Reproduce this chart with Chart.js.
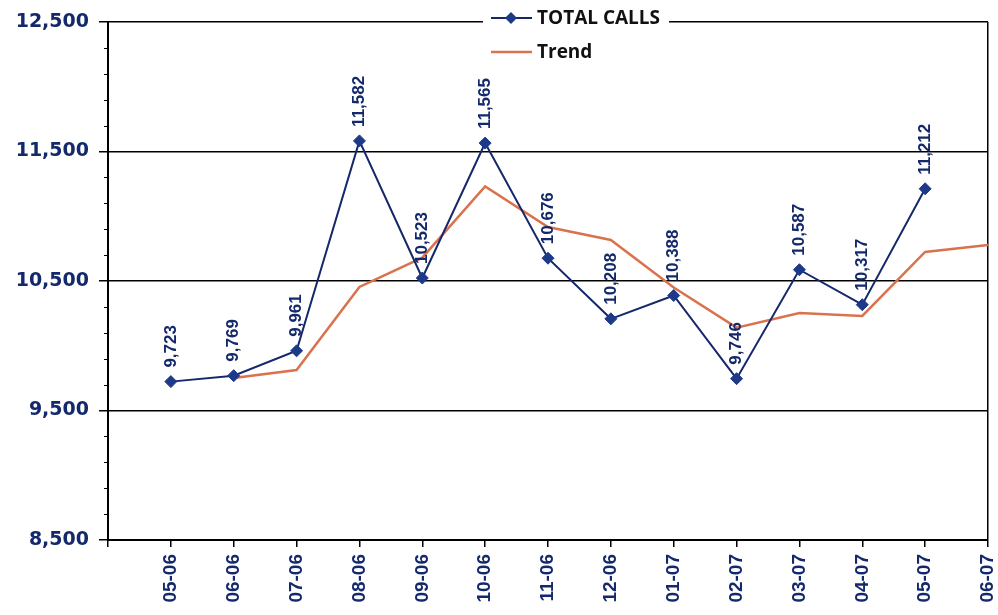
<!DOCTYPE html>
<html>
<head>
<meta charset="utf-8">
<script src="https://cdn.jsdelivr.net/npm/chart.js@4.4.1/dist/chart.umd.min.js"></script>
<style>
  html, body { margin: 0; padding: 0; background: #fff; }
  #wrap { width: 998px; height: 615px; position: relative; }
</style>
</head>
<body>
<div id="wrap"><canvas id="chart"></canvas></div>
<script>
'use strict';

// ── data ──────────────────────────────────────────────
// first slot is an empty category so the axis starts one step before 05-06
const months = ['', '05-06', '06-06', '07-06', '08-06', '09-06', '10-06', '11-06',
  '12-06', '01-07', '02-07', '03-07', '04-07', '05-07', '06-07'];
const totalCalls = [null, 9723, 9769, 9961, 11582, 10523, 11565, 10676,
  10208, 10388, 9746, 10587, 10317, 11212, null];
const trend = [null, null, 9751, 9813, 10454, 10680, 11230, 10917,
  10817, 10450, 10140, 10253, 10230, 10724, 10778];
const yTicks = [8500, 9500, 10500, 11500, 12500];

const NAVY = '#13296b';
const LINE_BLUE = '#15286a';
const POINT_BLUE = '#1d3a88';
const ORANGE = '#d9734e';

const fmt = v => v.toLocaleString('en-US');

// ── plugins ───────────────────────────────────────────
const minorTicks = {
  id: 'minorTicks',
  afterDraw(chart) {
    const y = chart.scales.y, ctx = chart.ctx;
    ctx.save();
    ctx.strokeStyle = '#000';
    ctx.lineWidth = 1;
    for (let v = 8700; v < 12500; v += 200) {
      if ((v - 8500) % 1000 === 0) continue;
      const py = Math.round(y.getPixelForValue(v)) + 0.5;
      ctx.beginPath();
      ctx.moveTo(y.right - 4, py);
      ctx.lineTo(y.right, py);
      ctx.stroke();
    }
    ctx.restore();
  }
};

const pointLabels = {
  id: 'pointLabels',
  afterDatasetsDraw(chart) {
    const ctx = chart.ctx;
    const meta = chart.getDatasetMeta(0);
    ctx.save();
    ctx.fillStyle = NAVY;
    ctx.font = 'bold 17px "Liberation Sans", Arial, sans-serif';
    ctx.textAlign = 'left';
    ctx.textBaseline = 'middle';
    meta.data.forEach((pt, i) => {
      const v = totalCalls[i];
      if (v == null) return;
      ctx.save();
      ctx.translate(pt.x, pt.y - 14);
      ctx.rotate(-Math.PI / 2);
      ctx.fillText(fmt(v), 0, 0);
      ctx.restore();
    });
    ctx.restore();
  }
};

const boxLegend = {
  id: 'boxLegend',
  afterDraw(chart) {
    const ctx = chart.ctx;
    ctx.save();
    ctx.fillStyle = '#fff';
    ctx.fillRect(483, 4, 186, 62);

    // TOTAL CALLS
    ctx.strokeStyle = LINE_BLUE;
    ctx.lineWidth = 2;
    ctx.beginPath(); ctx.moveTo(491, 18); ctx.lineTo(532, 18); ctx.stroke();
    ctx.fillStyle = POINT_BLUE;
    ctx.beginPath();
    ctx.moveTo(511, 12); ctx.lineTo(517, 18); ctx.lineTo(511, 24); ctx.lineTo(505, 18);
    ctx.closePath(); ctx.fill();

    // Trend
    ctx.strokeStyle = ORANGE;
    ctx.lineWidth = 2.5;
    ctx.beginPath(); ctx.moveTo(491, 52); ctx.lineTo(532, 52); ctx.stroke();

    ctx.fillStyle = '#111';
    ctx.font = 'bold 19px "Open Sans", "DejaVu Sans", sans-serif';
    ctx.textAlign = 'left';
    ctx.textBaseline = 'middle';
    ctx.fillText('TOTAL CALLS', 537, 19);
    ctx.fillText('Trend', 537, 53);
    ctx.restore();
  }
};

// ── chart ─────────────────────────────────────────────
new Chart(document.getElementById('chart').getContext('2d'), {
  type: 'line',
  data: {
    labels: months,
    datasets: [
      {
        label: 'TOTAL CALLS',
        data: totalCalls,
        borderColor: LINE_BLUE,
        borderWidth: 2,
        pointStyle: 'rectRot',
        pointRadius: 6,
        pointBackgroundColor: POINT_BLUE,
        pointBorderColor: POINT_BLUE,
        pointBorderWidth: 1,
        tension: 0,
        spanGaps: false,
        order: 0,
      },
      {
        label: 'Trend',
        data: trend,
        borderColor: ORANGE,
        borderWidth: 2.5,
        pointRadius: 0,
        tension: 0,
        order: 1,
      },
    ],
  },
  options: {
    responsive: true,
    maintainAspectRatio: false,
    animation: false,
    layout: { padding: { top: 22, right: 10, left: 0, bottom: 0 } },
    plugins: {
      legend: { display: false },
      tooltip: { enabled: false },
    },
    scales: {
      x: {
        offset: false,
        afterFit: s => { s.height = 75; s.paddingLeft = 0; s.paddingRight = 0; },
        border: { display: true, color: '#000', width: 2 },
        grid: {
          drawOnChartArea: true,
          color: c => (c.index === months.length - 1 ? '#000' : 'rgba(0,0,0,0)'),
          lineWidth: 1.5,
          tickColor: '#000',
          tickLength: 7,
        },
        ticks: {
          autoSkip: false,
          maxRotation: 90,
          minRotation: 90,
          padding: 7,
          color: NAVY,
          font: { family: '"Liberation Sans", Arial, sans-serif', size: 19, weight: 'bold' },
        },
      },
      y: {
        min: 8500,
        max: 12500,
        afterBuildTicks: s => { s.ticks = yTicks.map(v => ({ value: v })); },
        afterFit: s => { s.width = 108; s.paddingTop = 0; s.paddingBottom = 0; },
        border: { display: true, color: '#000', width: 2 },
        grid: {
          color: c => (c.tick && c.tick.value === 8500 ? 'rgba(0,0,0,0)' : '#000'),
          lineWidth: 1.5,
          tickColor: '#000',
          tickLength: 9,
        },
        ticks: {
          padding: 10,
          color: NAVY,
          callback: v => fmt(v),
          font: { family: '"DejaVu Sans", Verdana, sans-serif', size: 19, weight: 'bold' },
        },
      },
    },
  },
  plugins: [minorTicks, pointLabels, boxLegend],
});
</script>
</body>
</html>
